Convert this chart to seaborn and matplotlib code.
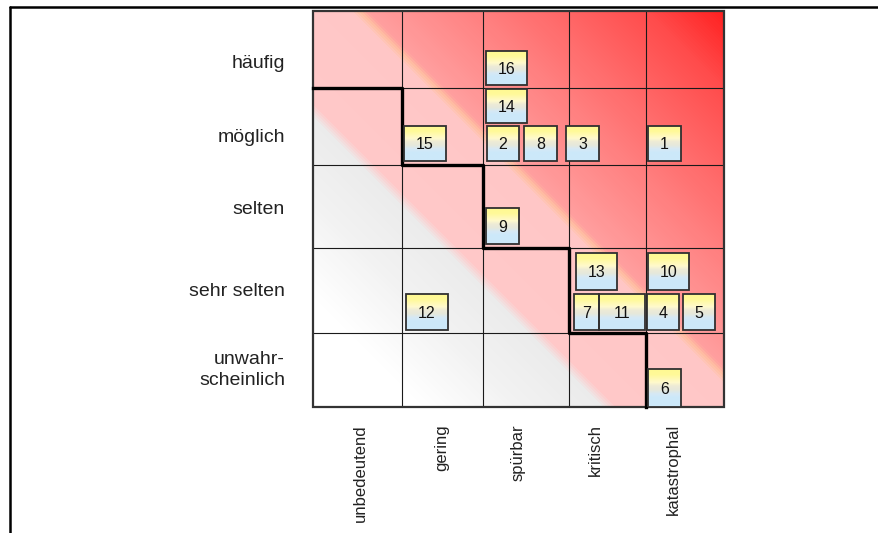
import numpy as np
import matplotlib
matplotlib.use("Agg")
import matplotlib.pyplot as plt
import seaborn as sns
from matplotlib.colors import LinearSegmentedColormap
from matplotlib.patches import Rectangle
from matplotlib.lines import Line2D

# ---------------- data ----------------
severity = ["unbedeutend", "gering", "spürbar", "kritisch", "katastrophal"]
probability = ["häufig", "möglich", "selten", "sehr selten", "unwahr-\nscheinlich"]

risk_ids = [16, 14, 2, 8, 3, 1, 15, 9, 13, 10, 7, 11, 4, 5, 12, 6]
risk_severity = [2, 2, 2, 2, 3, 4, 1, 2, 3, 4, 3, 3, 4, 4, 1, 4]
risk_probability = [0, 1, 1, 1, 1, 1, 1, 2, 3, 3, 3, 3, 3, 3, 3, 4]

# number of unacceptable probability rows (from top) per severity column
limit_rows = [1, 2, 3, 4, 5]

# ---------------- layout (pixel units of the grid) ----------------
col_edges = [0, 89, 170, 256, 333, 411]
row_edges = [0, 77, 154, 237, 322, 396]
# box offset within its cell: dx, dy, width, height
box_dx = [3, 3, 4, 41, -3, 2, 2, 3, 7, 2, 5, 30, 1, 37, 4, 2]
box_dy = [40, 1, 38, 38, 38, 38, 38, 43, 5, 5, 46, 46, 46, 46, 46, 36]
box_w = [41, 41, 32, 33, 33, 33, 42, 33, 41, 41, 25, 46, 32, 32, 42, 33]
box_h = [34, 34, 35, 35, 35, 35, 35, 36, 37, 37, 36, 36, 36, 36, 36, 38]
row_label_y = [53, 126, 198, 281, 359]
col_label_x = [47, 129, 205, 282, 360]

sns.set_theme(style="white")
plt.rcParams["font.family"] = ["Liberation Sans", "DejaVu Sans"]

W, H = 879, 533
fig = plt.figure(figsize=(W / 100, H / 100), dpi=100)
fig.patch.set_facecolor("white")

gx0, gy0, gw, gh = 313, 11, col_edges[-1], row_edges[-1]
ax = fig.add_axes([gx0 / W, 1 - (gy0 + gh) / H, gw / W, gh / H])

# background risk gradient along the diagonal (x - y in grid pixels)
X = np.arange(gw)[None, :] + 0.5
Y = np.arange(gh)[:, None] + 0.5
T = (X - Y + gh) / (gw + gh)


def tpos(d):
    return (d + gh) / (gw + gh)


stops = [
    (0.0, "#FFFFFF"), (tpos(-290), "#FFFFFF"), (tpos(-190), "#F2F2F2"),
    (tpos(-108), "#EBEBEB"), (tpos(-92), "#FFC8C8"), (tpos(37), "#FFC6C6"),
    (tpos(46), "#FFC0A2"), (tpos(55), "#FF9E9E"), (tpos(170), "#FF7E7E"),
    (tpos(256), "#FF6464"), (tpos(333), "#FF4C4C"), (1.0, "#FF2020"),
]
cmap = LinearSegmentedColormap.from_list("risk", stops)
sns.heatmap(T, ax=ax, cmap=cmap, vmin=0, vmax=1, cbar=False,
            xticklabels=False, yticklabels=False)

# grid lines
for x in col_edges[1:-1]:
    ax.plot([x, x], [0, gh], color="#1a1a1a", lw=0.8, zorder=2)
for y in row_edges[1:-1]:
    ax.plot([0, gw], [y, y], color="#1a1a1a", lw=0.8, zorder=2)
ax.add_patch(Rectangle((0, 0), gw, gh, fill=False, edgecolor="#333333", lw=1.6, zorder=2, clip_on=False))

# acceptance staircase
px, py = [], []
for i, n in enumerate(limit_rows):
    px += [col_edges[i], col_edges[i + 1]]
    py += [row_edges[n], row_edges[n]]
px, py = px[:-1], py[:-1]
ax.plot(px, py, color="black", lw=2.4, zorder=3, solid_capstyle="projecting", clip_on=False)

# risk boxes
grad = np.array([
    [1.00, 0.98, 0.58], [1.00, 0.98, 0.60], [1.00, 0.98, 0.70], [1.00, 0.98, 0.80],
    [0.93, 0.92, 0.84], [0.90, 0.91, 0.86], [0.84, 0.91, 0.96], [0.80, 0.91, 0.98],
    [0.80, 0.91, 0.98], [0.80, 0.91, 0.98],
])[:, None, :]
for rid, c, r, dx, dy, w, h in zip(risk_ids, risk_severity, risk_probability, box_dx, box_dy, box_w, box_h):
    x0 = col_edges[c] + dx
    y0 = row_edges[r] + dy
    ax.imshow(grad, extent=(x0, x0 + w, y0 + h, y0), origin="upper", aspect="auto",
              interpolation="bilinear", zorder=4)
    ax.add_patch(Rectangle((x0, y0), w, h, fill=False, edgecolor="#303030", lw=1.3, zorder=5))
    ax.text(x0 + w / 2, y0 + h / 2 + 1, str(rid), ha="center", va="center",
            fontsize=11.5, color="#111111", zorder=6)

# axis labels
for lab, y in zip(probability, row_label_y):
    ax.text(-28, y, lab, ha="right", va="center", fontsize=14, color="#222222",
            clip_on=False, linespacing=1.25)
for lab, x in zip(severity, col_label_x):
    ax.text(x, gh + 17, lab, ha="center", va="top", rotation=90, fontsize=12,
            color="#222222", clip_on=False)

ax.set_xlim(0, gw)
ax.set_ylim(gh, 0)
ax.set_xticks([])
ax.set_yticks([])
for s in ax.spines.values():
    s.set_visible(False)

# outer frame lines (top and left)
fig.add_artist(Line2D([10 / W, 1], [1 - 7 / H, 1 - 7 / H], transform=fig.transFigure, color="black", lw=1.8))
fig.add_artist(Line2D([10 / W, 10 / W], [0, 1 - 7 / H], transform=fig.transFigure, color="black", lw=1.8))

fig.savefig("out.png", dpi=100, facecolor="white")
